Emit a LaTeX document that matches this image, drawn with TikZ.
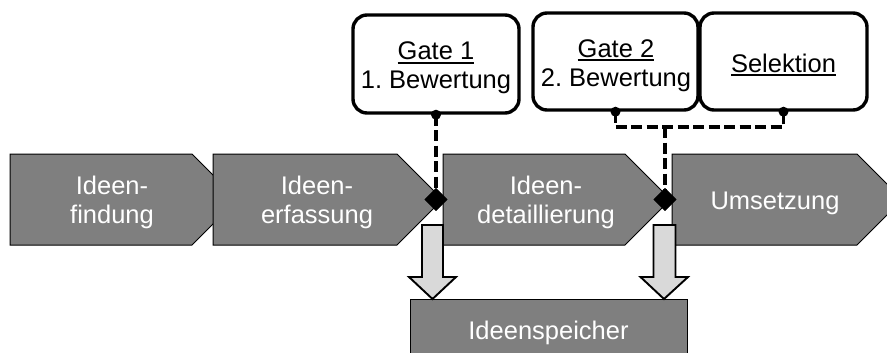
\documentclass[tikz,border=0pt]{standalone}
\usepackage{fontspec}
\setmainfont{Liberation Sans}
\usetikzlibrary{shapes.geometric}

\definecolor{phasegray}{HTML}{7F7F7F}
\definecolor{arrowgray}{HTML}{D9D9D9}

% underline drawn as a rule that adds no height or depth to the line
\newcommand\ulin[1]{\setbox0=\hbox{#1}\rlap{\smash{\rule[-3.8pt]{\wd0}{1.8pt}}}\box0}

\begin{document}
\frenchspacing
\begin{tikzpicture}[x=1pt,y=-1pt,
  phase/.style={draw=black, line width=1pt, fill=phasegray},
  phasetext/.style={text=white, font=\fontsize{25.5}{29}\selectfont, align=center, inner sep=0pt},
  storebox/.style={draw=black, line width=1pt, fill=phasegray, inner sep=0pt,
    minimum width=277pt, minimum height=67pt, text=white, font=\fontsize{25.5}{29}\selectfont},
  blockarrow/.style={draw=black, line width=1.9pt, fill=arrowgray, line join=miter},
  gatebox/.style={draw=black, line width=3.4pt, rounded corners=14pt, fill=white, inner sep=0pt},
  gatetext/.style={font=\fontsize{25.5}{29}\selectfont, align=center, inner sep=0pt},
  link/.style={draw=black, line width=3.2pt, dash pattern=on 11pt off 4.5pt},
  gatemark/.style={diamond, fill=black, inner sep=0pt, minimum width=23pt, minimum height=23pt}
]
\path[use as bounding box, clip] (0,0) rectangle (887,353);

% process phases (each later phase overlaps the tip of the one before)
\draw[phase] (10,154) -- (192,154) -- (237.5,199.5) -- (192,245) -- (10,245) -- cycle;
\draw[phase] (213,154) -- (397,154) -- (442.5,199.5) -- (397,245) -- (213,245) -- cycle;
\draw[phase] (443,154) -- (625,154) -- (670.5,199.5) -- (625,245) -- (443,245) -- cycle;
\draw[phase] (672,154) -- (857,154) -- (902.5,199.5) -- (857,245) -- (672,245) -- cycle;

\node[phasetext] (p1) at (112,202.5) {Ideen-\\findung};
\node[phasetext] (p2) at (317,202.5) {Ideen-\\erfassung};
\node[phasetext] (p3) at (546,202.5) {Ideen-\\detaillierung};
\node[phasetext] (p4) at (775,203) {Umsetzung};

% idea store
\node[storebox] (store) at (548.5,332.5) {Ideenspeicher};

% block arrows into the store
\coordinate (in1) at (432.5,299);
\coordinate (in2) at (664,299);
\draw[blockarrow] (in1) -- ++(-23.5,-22) -- ++(13,0) -- ++(0,-52) -- ++(21,0)
  -- ++(0,52) -- ++(13,0) -- cycle;
\draw[blockarrow] (in2) -- ++(-23.5,-22) -- ++(13,0) -- ++(0,-52) -- ++(22,0)
  -- ++(0,52) -- ++(12.5,0) -- cycle;

% gates
\node[gatebox, minimum width=166pt, minimum height=98pt] (gate1) at (436,64) {};
\node[gatebox, minimum width=165pt, minimum height=97pt] (gate2) at (615.5,61.5) {};
\node[gatebox, minimum width=167pt, minimum height=97pt] (sel) at (783.5,61.5) {};

\node[gatetext] (gate1txt) at (436,68) {\ulin{Gate 1}\\1. Bewertung};
\node[gatetext] (gate2txt) at (616,65.5) {\ulin{Gate 2}\\2. Bewertung};
\node[gatetext] (seltxt) at (783.5,63) {\ulin{Selektion}};

% gate markers between phases
\node[gatemark] (d1) at (436,199.5) {};
\node[gatemark] (d2) at (665,199.5) {};

% dashed links from the gates to the markers
\coordinate (jn) at (665,127);
\draw[link] (gate1.south) -- (d1.center);
\draw[link] (gate2.south) |- (jn) -| (sel.south);
\draw[link] (jn) -- (d2.center);
\node[gatemark] at (d1) {};
\node[gatemark] at (d2) {};

\fill (gate1.south) circle (5pt);
\fill (gate2.south) circle (5pt);
\fill (sel.south) circle (5pt);
\end{tikzpicture}
\end{document}
